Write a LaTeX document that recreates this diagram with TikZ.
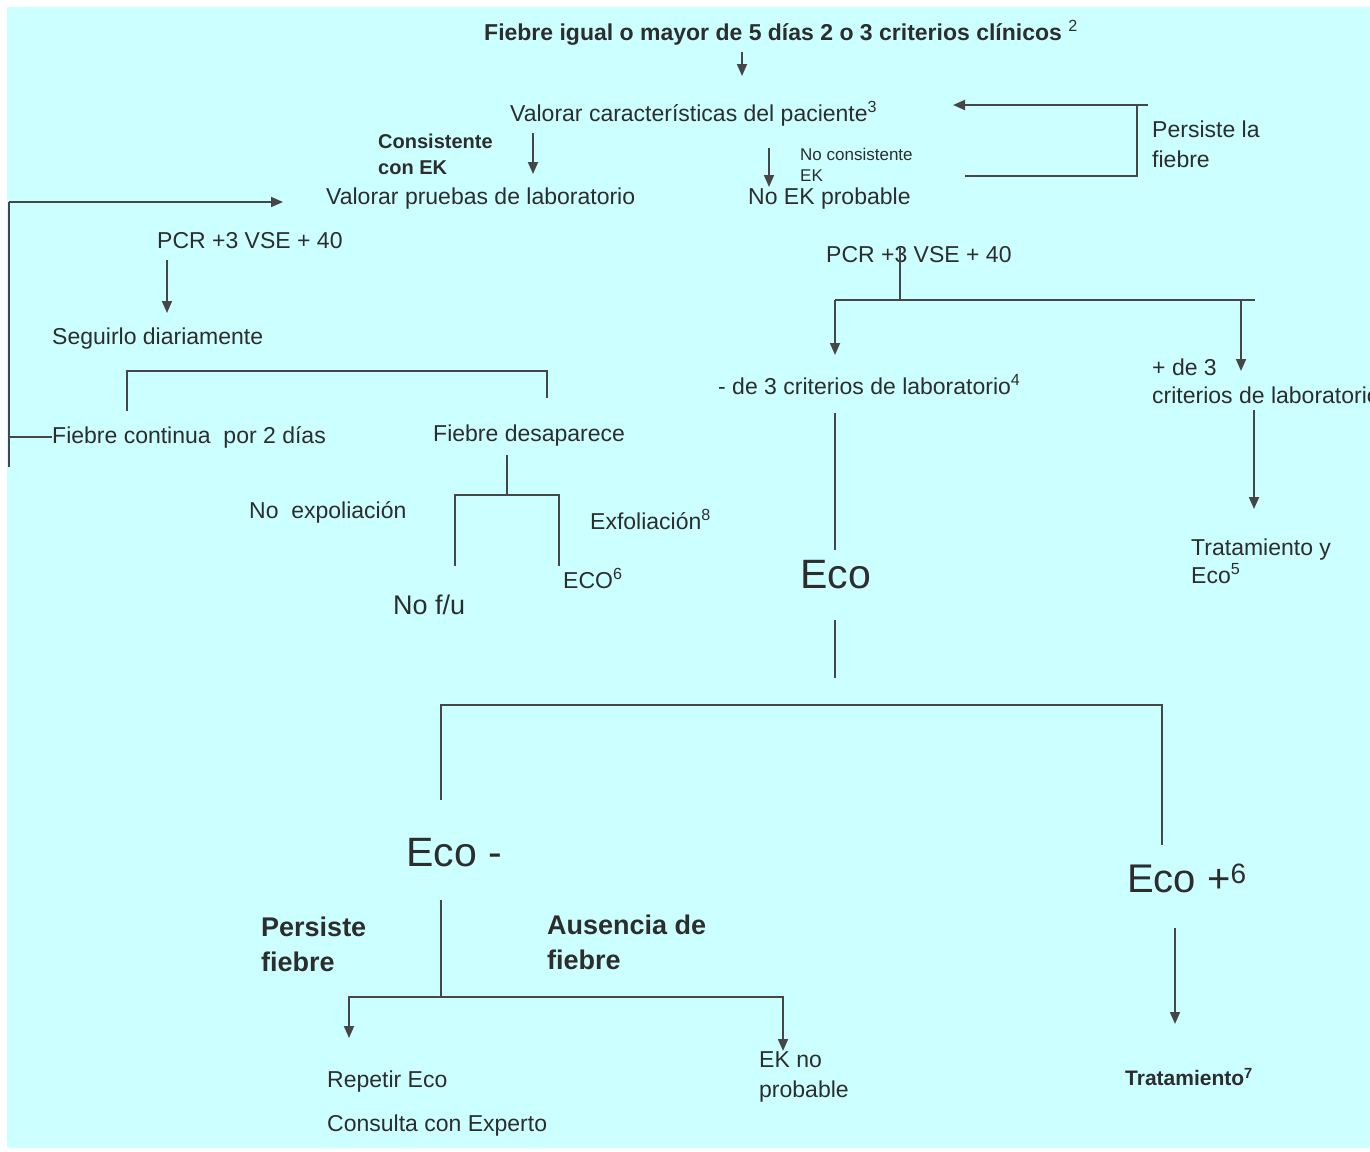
\documentclass[tikz,border=0pt]{standalone}
\usepackage{fontspec}
\setmainfont{Liberation Sans}
\usetikzlibrary{arrows.meta}
\definecolor{bg}{RGB}{204,255,255}
\definecolor{ink}{RGB}{45,45,45}
\definecolor{lncol}{RGB}{70,70,70}
\newcommand\fsz[2]{\fontsize{#1}{#2}\selectfont}
\begin{document}
\begin{tikzpicture}[x=1pt,y=-1pt,
  txt/.style={inner sep=0pt, anchor=west, text=ink, font=\fsz{23}{28}},
  lnk/.style={draw=lncol, line width=1.8pt},
  arr/.style={lnk, -{Triangle[length=12pt,width=10pt]}}]
\useasboundingbox (0,0) rectangle (1370,1151);
\fill[white] (0,0) rectangle (1370,1151);
\fill[bg] (7,7) rectangle (1370,1148);

% texts
\node[txt, font=\bfseries\fsz{23}{28}] (title) at (484,33) {Fiebre igual o mayor de 5 días 2 o 3 criterios clínicos \textsuperscript{\mdseries 2}};
\node[txt] (vcar) at (510,114) {Valorar características del paciente\textsuperscript{3}};
\node[txt, font=\bfseries\fsz{20}{26}, align=left] (cons) at (378,154) {Consistente\\con EK};
\node[txt] (vpru) at (326,199) {Valorar pruebas de laboratorio};
\node[txt, font=\fsz{17}{21}, align=left] (ncons) at (800,165) {No consistente\\EK};
\node[txt] (noek) at (748,199) {No EK probable};
\node[txt, align=left, font=\fsz{23}{30}] (pers) at (1152,144) {Persiste la\\fiebre};
\node[txt] (pcr1) at (157,241) {PCR +3 VSE + 40};
\node[txt] (seg) at (52,339) {Seguirlo diariamente};
\node[txt] (fcont) at (52,437) {Fiebre continua \ por 2 días};
\node[txt] (fdes) at (433,436) {Fiebre desaparece};
\node[txt] (noexp) at (249,512) {No \ expoliación};
\node[txt] (exf) at (590,519) {Exfoliación\textsuperscript{8}};
\node[txt] (eco6) at (563,578) {ECO\textsuperscript{6}};
\node[txt, font=\fsz{27}{32}] (nofu) at (393,605) {No f/u};
\node[txt] (pcr2) at (826,255) {PCR +3 VSE + 40};
\node[txt] (menos) at (718,385) {- de 3 criterios de laboratorio\textsuperscript{4}};
\node[txt, align=left, font=\fsz{23}{28}] (mas) at (1152,381) {+ de 3\\criterios de laboratorio};
\node[txt, font=\fsz{41}{48}] (eco) at (800,575) {Eco};
\node[txt, align=left, font=\fsz{23}{28}] (trat5) at (1191,561) {Tratamiento y\\Eco\textsuperscript{5}};
\node[txt, font=\fsz{41}{48}] (ecom) at (406,853) {Eco -};
\node[txt, font=\fsz{40}{48}] (ecop) at (1127,878) {Eco +\textsuperscript{6}};
\node[txt, font=\bfseries\fsz{27}{35}, align=left] (persf) at (261,944) {Persiste\\fiebre};
\node[txt, font=\bfseries\fsz{27}{35}, align=left] (aus) at (547,942) {Ausencia de\\fiebre};
\node[txt] (rep) at (327,1082) {Repetir Eco};
\node[txt] (cons2) at (327,1126) {Consulta con Experto};
\node[txt, align=left, font=\fsz{23}{30}] (ekno) at (759,1077) {EK no\\probable};
\node[txt, font=\bfseries\fsz{21}{25}] (trat7) at (1125,1077) {Tratamiento\textsuperscript{7}};

% coordinates
\coordinate (t1) at (742,52);   \coordinate (t2) at (742,76);
\coordinate (p1) at (1148,105); \coordinate (p2) at (953,105);
\coordinate (p3) at (1137,105); \coordinate (p4) at (1137,176); \coordinate (p5) at (965,176);
\coordinate (c1) at (533,133);  \coordinate (c2) at (533,174);
\coordinate (n1) at (769,148);  \coordinate (n2) at (769,187);
\coordinate (l1) at (9,467);    \coordinate (l2) at (9,202);  \coordinate (l3) at (283,202);
\coordinate (s1) at (167,260);  \coordinate (s2) at (167,313);
\coordinate (b1) at (127,411);  \coordinate (b2) at (127,371); \coordinate (b3) at (547,371); \coordinate (b4) at (547,398);
\coordinate (d1) at (507,455);  \coordinate (d2) at (507,495);
\coordinate (d3) at (455,566);  \coordinate (d4) at (455,495); \coordinate (d5) at (559,495); \coordinate (d6) at (559,566);
\coordinate (r1) at (900,248);  \coordinate (r2) at (900,300);
\coordinate (r3) at (835,300);  \coordinate (r4) at (1255,300);
\coordinate (r5) at (835,355);  \coordinate (r6) at (1241,300); \coordinate (r7) at (1241,371);
\coordinate (e1) at (835,413);  \coordinate (e2) at (835,550);
\coordinate (e3) at (835,620);  \coordinate (e4) at (835,678);
\coordinate (m1) at (1254,410); \coordinate (m2) at (1254,509);
\coordinate (k1) at (441,800);  \coordinate (k2) at (441,705); \coordinate (k3) at (1162,705); \coordinate (k4) at (1162,845);
\coordinate (g1) at (441,900);  \coordinate (g2) at (441,997);
\coordinate (g3) at (349,997);  \coordinate (g4) at (349,1038);
\coordinate (g5) at (783,997);  \coordinate (g6) at (783,1051);
\coordinate (h1) at (1175,928); \coordinate (h2) at (1175,1024);

% connectors
\draw[arr] (t1) -- (t2);
\draw[arr] (p1) -- (p2);
\draw[lnk] (p3) -- (p4) -- (p5);
\draw[arr] (c1) -- (c2);
\draw[arr] (n1) -- (n2);
\draw[lnk] (l1) -- (l2);
\draw[arr] (l2) -- (l3);
\draw[lnk] (fcont.west -| l1) -- (fcont.west);
\draw[arr] (s1) -- (s2);
\draw[lnk] (b1) -- (b2) -- (b3) -- (b4);
\draw[lnk] (d1) -- (d2);
\draw[lnk] (d3) -- (d4) -- (d5) -- (d6);
\draw[lnk] (r1) -- (r2);
\draw[lnk] (r3) -- (r4);
\draw[arr] (r3) -- (r5);
\draw[arr] (r6) -- (r7);
\draw[lnk] (e1) -- (e2);
\draw[lnk] (e3) -- (e4);
\draw[arr] (m1) -- (m2);
\draw[lnk] (k1) -- (k2) -- (k3) -- (k4);
\draw[lnk] (g1) -- (g2);
\draw[arr] (g2) -- (g3) -- (g4);
\draw[arr] (g2) -- (g5) -- (g6);
\draw[arr] (h1) -- (h2);
\end{tikzpicture}
\end{document}
